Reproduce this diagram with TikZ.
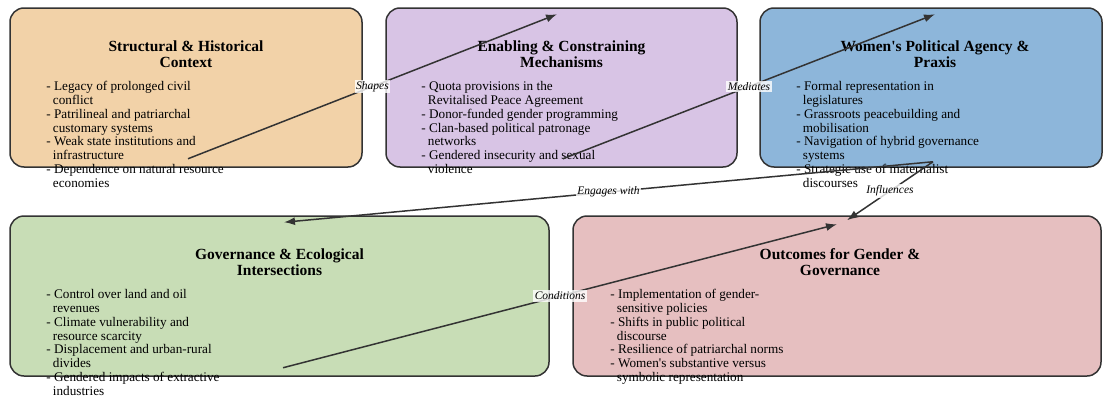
\documentclass[tikz,border=0pt]{standalone}
\usepackage{fontspec}
\setmainfont{Liberation Serif}
\usepackage{tikz}
\usetikzlibrary{arrows.meta,positioning}

\definecolor{boxline}{HTML}{333333}
\definecolor{linkgray}{HTML}{333333}
\definecolor{ctxfill}{HTML}{F2D2A8}
\definecolor{mechfill}{HTML}{D8C4E5}
\definecolor{agencyfill}{HTML}{8DB6DA}
\definecolor{ecofill}{HTML}{C8DDB6}
\definecolor{outfill}{HTML}{E6BFC0}

\begin{document}
\begin{tikzpicture}[x=1pt,y=-1pt]
				\tikzstyle{Box}		= [draw=boxline, line width=1.5pt, rounded corners=14pt, inner sep=0pt]
				\tikzstyle{Top}		= [minimum height=159pt]
				\tikzstyle{Low}		= [minimum height=160pt]
				\tikzstyle{Title}	= [inner sep=0pt, align=center, anchor=north, font=\fontsize{15.5}{16}\selectfont\bfseries]
				\tikzstyle{Body}	= [inner sep=0pt, align=left, anchor=north west, font=\fontsize{13.2}{13.8}\selectfont]
				\tikzstyle{Link}	= [line width=1.5pt, draw=linkgray, -{Latex[length=11pt,width=8pt]}]
				\tikzstyle{Lbl}		= [fill=white, fill opacity=0.8, text opacity=1, inner sep=1.5pt, font=\fontsize{11.5}{12}\selectfont\itshape]

				\useasboundingbox (0,0) rectangle (1104,399);

				\node (sh) at (186,87.5) [Box][Top][minimum width=352pt, fill=ctxfill] {};
				\node (ec) at (561.5,87.5) [Box][Top][minimum width=351pt, fill=mechfill] {};
				\node (wp) at (931,87.5) [Box][Top][minimum width=342pt, fill=agencyfill] {};
				\node (ge) at (279.5,296) [Box][Low][minimum width=539pt, fill=ecofill] {};
				\node (og) at (837,296) [Box][Low][minimum width=528pt, fill=outfill] {};

				\node (sh-t) at ([yshift=-33pt]sh.north) [Title] {Structural \& Historical\\Context};
				\node (ec-t) at ([yshift=-33pt]ec.north) [Title] {Enabling \& Constraining\\Mechanisms};
				\node (wp-t) at ([xshift=4pt,yshift=-33pt]wp.north) [Title] {Women\textquotesingle s Political Agency \&\\Praxis};
				\node (ge-t) at ([yshift=-33pt]ge.north) [Title] {Governance \& Ecological\\Intersections};
				\node (og-t) at ([xshift=3pt,yshift=-33pt]og.north) [Title] {Outcomes for Gender \&\\Governance};

				\node (sh-b) at ([xshift=37pt,yshift=-74pt]sh.north west) [Body] {- Legacy of prolonged civil\\\hspace*{6.5pt}conflict\\- Patrilineal and patriarchal\\\hspace*{6.5pt}customary systems\\- Weak state institutions and\\\hspace*{6.5pt}infrastructure\\- Dependence on natural resource\\\hspace*{6.5pt}economies};
				\node (ec-b) at ([xshift=36pt,yshift=-74pt]ec.north west) [Body] {- Quota provisions in the\\\hspace*{6.5pt}Revitalised Peace Agreement\\- Donor-funded gender programming\\- Clan-based political patronage\\\hspace*{6.5pt}networks\\- Gendered insecurity and sexual\\\hspace*{6.5pt}violence};
				\node (wp-b) at ([xshift=37pt,yshift=-74pt]wp.north west) [Body] {- Formal representation in\\\hspace*{6.5pt}legislatures\\- Grassroots peacebuilding and\\\hspace*{6.5pt}mobilisation\\- Navigation of hybrid governance\\\hspace*{6.5pt}systems\\- Strategic use of maternalist\\\hspace*{6.5pt}discourses};
				\node (ge-b) at ([xshift=37pt,yshift=-74pt]ge.north west) [Body] {- Control over land and oil\\\hspace*{6.5pt}revenues\\- Climate vulnerability and\\\hspace*{6.5pt}resource scarcity\\- Displacement and urban-rural\\\hspace*{6.5pt}divides\\- Gendered impacts of extractive\\\hspace*{6.5pt}industries};
				\node (og-b) at ([xshift=38pt,yshift=-74pt]og.north west) [Body] {- Implementation of gender-\\\hspace*{6.5pt}sensitive policies\\- Shifts in public political\\\hspace*{6.5pt}discourse\\- Resilience of patriarchal norms\\- Women\textquotesingle s substantive versus\\\hspace*{6.5pt}symbolic representation};

				\coordinate (sh-out) at ([xshift=2pt,yshift=9pt]sh.south);
				\coordinate (ec-in) at ([xshift=-4.5pt,yshift=-7pt]ec.north);
				\coordinate (ec-out) at ([xshift=1.5pt,yshift=9pt]ec.south);
				\coordinate (wp-in) at ([xshift=4pt,yshift=-7pt]wp.north);
				\coordinate (wp-out) at ([xshift=2pt,yshift=6pt]wp.south);
				\coordinate (ge-in) at ([xshift=4.5pt,yshift=-7pt]ge.north);
				\coordinate (ge-out) at ([xshift=3.5pt,yshift=9pt]ge.south);
				\coordinate (og-in) at ([xshift=10pt,yshift=-5pt]og.north);
				\coordinate (og-in2) at ([yshift=-9pt]og.north);

				\draw [Link] (sh-out) to node [Lbl] {Shapes} (ec-in);
				\draw [Link] (ec-out) to node [Lbl] {Mediates} (wp-in);
				\draw [Link] (wp-out) to node [Lbl] {Engages with} (ge-in);
				\draw [Link] (wp-out) to node [Lbl] {Influences} (og-in);
				\draw [Link] (ge-out) to node [Lbl] {Conditions} (og-in2);
			\end{tikzpicture}
\end{document}
